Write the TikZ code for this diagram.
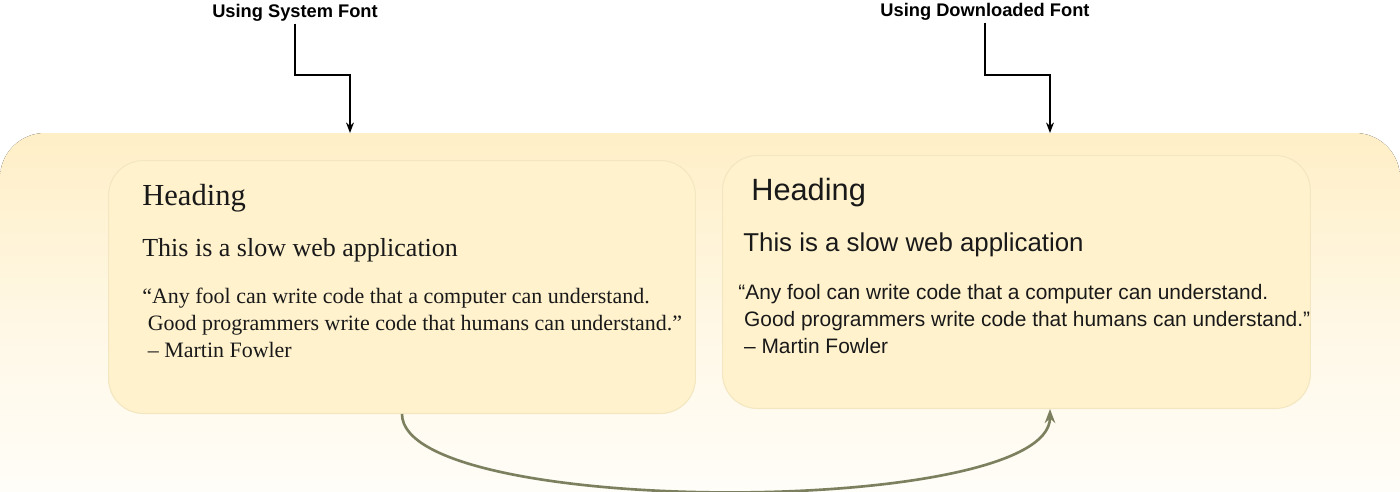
\documentclass[tikz,border=0pt]{standalone}
\usepackage{fontspec}
\setmainfont{Liberation Serif}
\newfontfamily\arialfont{Liberation Sans}
\usepackage{tikz}
\usetikzlibrary{arrows.meta,positioning,calc}
\usepackage{xcolor}
\definecolor{PanelYellow}{RGB}{255,239,199}
\definecolor{CardYellow}{RGB}{255,242,205}
\definecolor{CardEdge}{RGB}{242,231,192}
\definecolor{CurveOlive}{RGB}{124,128,94}
\definecolor{InkGray}{RGB}{25,25,25}

\begin{document}
\begin{tikzpicture}[x=0.02cm,y=-0.02cm,
  card/.style={draw=CardEdge,fill=CardYellow,rounded corners=0.7cm,line width=0.6pt},
  tag/.style={font=\arialfont\bfseries\fontsize{10.4}{12}\selectfont,inner sep=1pt},
  line/.style={anchor=base west,inner sep=0pt,text=InkGray},
  arr/.style={-{Stealth[length=6pt,width=4.5pt]},line width=0.9pt},
]
\useasboundingbox (0,0) rectangle (1400,491);
% background panel
\fill[top color=PanelYellow,bottom color=white,middle color=PanelYellow!40,rounded corners=0.9cm]
  (0,133) rectangle (1400,560);
\node[inner sep=0pt,minimum size=0pt] (panel) at (700,133) {};

% the two cards
\node[card,minimum width=11.74cm,minimum height=5.06cm,anchor=north west] (sysBox) at (108,160) {};
\node[card,minimum width=11.76cm,minimum height=5.06cm,anchor=north west] (dlBox) at (722,155) {};

% system font (serif)
\node[line,font=\fontsize{17.4}{20}\selectfont] (sysHead) at (142,205) {Heading};
\node[line,font=\fontsize{14.8}{18}\selectfont] (sysSub) at (142,256) {This is a slow web application};
\node[line,font=\fontsize{12.5}{15.3}\selectfont,align=left] (sysQuote) at (142,357)
  {“Any fool can write code that a computer can understand.\\
   \ Good programmers write code that humans can understand.”\\
   \ – Martin Fowler};

% downloaded font (sans)
\node[line,font=\arialfont\fontsize{17.5}{20}\selectfont] (dlHead) at (751,200) {Heading};
\node[line,font=\arialfont\fontsize{14.7}{18}\selectfont] (dlSub) at (743,251) {This is a slow web application};
\node[line,font=\arialfont\fontsize{11.9}{15.3}\selectfont,align=left] (dlQuote) at (738,353)
  {“Any fool can write code that a computer can understand.\\
   \ Good programmers write code that humans can understand.”\\
   \ – Martin Fowler};

% labels and their arrows
\node[tag] (sysLbl) at (295,13) {Using System Font};
\node[tag] (dlLbl) at (985,12) {Using Downloaded Font};
\coordinate (sysIn) at (350,133);
\coordinate (dlIn) at (1050,133);
\draw[arr] (sysLbl.south) |- ($(sysIn)+(0,-58)$) -- (sysIn);
\draw[arr] (dlLbl.south) |- ($(dlIn)+(0,-58)$) -- (dlIn);

% swap curve
\coordinate (curveOut) at (402,413);
\coordinate (curveIn) at (1050,408);
\draw[arr,draw=CurveOlive,-{Stealth[length=8pt,width=6pt,fill=CurveOlive]},line width=1.5pt]
  (sysBox.south -| curveOut) .. controls (402,518) and (1050,518) .. (dlBox.south -| curveIn);
\end{tikzpicture}
\end{document}
